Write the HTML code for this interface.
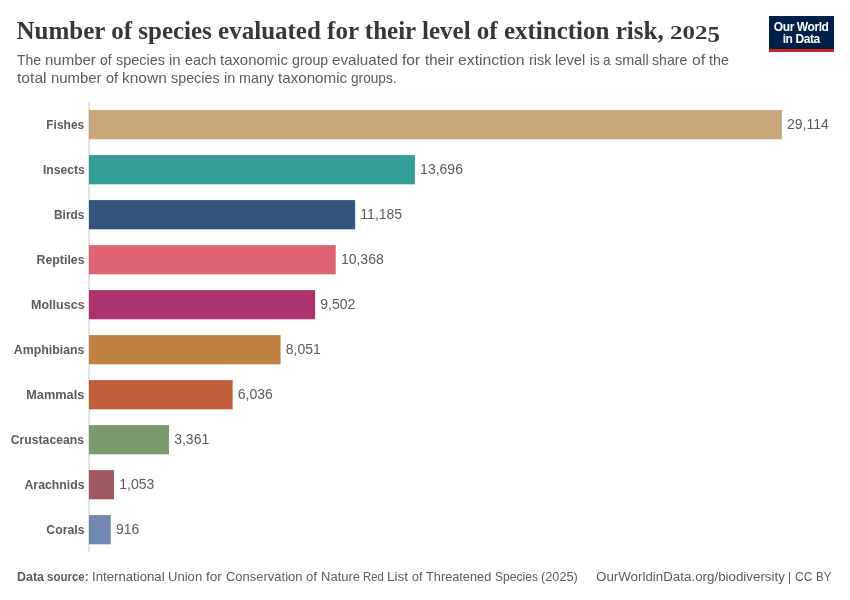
<!DOCTYPE html>
<html><head><meta charset="utf-8">
<style>
html,body{margin:0;padding:0;background:#fff;}
body{width:850px;height:600px;position:relative;overflow:hidden;font-family:"Liberation Sans",sans-serif;}
.title{position:absolute;left:16.5px;top:17px;font-family:"Liberation Serif",serif;font-weight:bold;font-size:25px;color:#373737;white-space:nowrap;transform-origin:0 0;}
.sub{position:absolute;font-size:15px;color:#5b5b5b;white-space:nowrap;line-height:18px;transform-origin:0 0;}
.lab{position:absolute;right:765.5px;margin-top:0px;transform:scaleX(0.945);font-size:13px;font-weight:bold;color:#5b5b5b;white-space:nowrap;line-height:29px;height:29px;transform-origin:100% 50%;}
.val{position:absolute;font-size:14px;color:#5b5b5b;white-space:nowrap;line-height:29px;height:29px;margin-top:0.3px}
.fb{font-weight:bold}
.foot{position:absolute;font-size:13px;color:#5b5b5b;white-space:nowrap;line-height:16px;transform-origin:0 0;}
.logo{position:absolute;left:769px;top:16px;width:65px;height:36px;background:#002147;}
.logo .red{position:absolute;left:0;bottom:0;width:65px;height:3px;background:#ce261e;}
.logo .t{position:absolute;left:-0.3px;width:65px;text-align:center;color:#fff;font-weight:bold;font-size:12px;line-height:12px;letter-spacing:-0.42px;}
svg{position:absolute;left:0;top:0;}
#wrap{position:absolute;left:0;top:0;width:850px;height:600px;will-change:transform;}
</style></head><body><div id="wrap">
<div class="title" id="title">Number of species evaluated for their level of extinction risk, <span style="display:inline-block;transform:scaleY(0.72);transform-origin:0 80.5%">202</span><span style="display:inline-block;transform:translateY(3.2px) scaleY(0.96);transform-origin:0 80.5%">5</span></div>
<div class="sub" style="left:17.20px;top:50.5px;transform:scaleX(0.9328)">The</div>
<div class="sub" style="left:45.20px;top:50.5px;transform:scaleX(0.9994)">number</div>
<div class="sub" style="left:100.20px;top:50.5px;transform:scaleX(0.9408)">of</div>
<div class="sub" style="left:115.90px;top:50.5px;transform:scaleX(0.9613)">species</div>
<div class="sub" style="left:168.80px;top:50.5px;transform:scaleX(0.9909)">in</div>
<div class="sub" style="left:184.50px;top:50.5px;transform:scaleX(0.9590)">each</div>
<div class="sub" style="left:219.70px;top:50.5px;transform:scaleX(0.9925)">taxonomic</div>
<div class="sub" style="left:291.70px;top:50.5px;transform:scaleX(0.9448)">group</div>
<div class="sub" style="left:331.90px;top:50.5px;transform:scaleX(1.0125)">evaluated</div>
<div class="sub" style="left:402.00px;top:50.5px;transform:scaleX(1.0421)">for</div>
<div class="sub" style="left:424.60px;top:50.5px;transform:scaleX(0.9922)">their</div>
<div class="sub" style="left:457.70px;top:50.5px;transform:scaleX(1.0511)">extinction</div>
<div class="sub" style="left:528.70px;top:50.5px;transform:scaleX(0.9636)">risk</div>
<div class="sub" style="left:555.20px;top:50.5px;transform:scaleX(0.9820)">level</div>
<div class="sub" style="left:589.60px;top:50.5px;transform:scaleX(0.9000)">is</div>
<div class="sub" style="left:603.10px;top:50.5px;transform:scaleX(0.9109)">a</div>
<div class="sub" style="left:614.50px;top:50.5px;transform:scaleX(0.9650)">small</div>
<div class="sub" style="left:652.30px;top:50.5px;transform:scaleX(0.9400)">share</div>
<div class="sub" style="left:691.50px;top:50.5px;transform:scaleX(1.0427)">of</div>
<div class="sub" style="left:708.90px;top:50.5px;transform:scaleX(0.9540)">the</div>
<div class="sub" style="left:17.20px;top:68.5px;transform:scaleX(1.0421)">total</div>
<div class="sub" style="left:51.10px;top:68.5px;transform:scaleX(0.9922)">number</div>
<div class="sub" style="left:105.70px;top:68.5px;transform:scaleX(0.9648)">of</div>
<div class="sub" style="left:121.80px;top:68.5px;transform:scaleX(1.0330)">known</div>
<div class="sub" style="left:170.90px;top:68.5px;transform:scaleX(0.9558)">species</div>
<div class="sub" style="left:223.50px;top:68.5px;transform:scaleX(0.9594)">in</div>
<div class="sub" style="left:238.70px;top:68.5px;transform:scaleX(0.9545)">many</div>
<div class="sub" style="left:277.70px;top:68.5px;transform:scaleX(1.0104)">taxonomic</div>
<div class="sub" style="left:351.00px;top:68.5px;transform:scaleX(0.9111)">groups.</div>
<div class="logo"><div class="t" style="top:5px">Our World</div><div class="t" style="top:17px">in Data</div><div class="red"></div></div>
<svg width="850" height="600" viewBox="0 0 850 600">
<rect x="88" y="102" width="2" height="450" fill="#e2e2e2"/>
<rect x="89" y="110.1" width="692.80" height="29.2" fill="#BC8E5A" fill-opacity="0.8"/>
<rect x="89" y="155.1" width="325.91" height="29.2" fill="#00847E" fill-opacity="0.8"/>
<rect x="89" y="200.1" width="266.16" height="29.2" fill="#00295B" fill-opacity="0.8"/>
<rect x="89" y="245.1" width="246.72" height="29.2" fill="#D73C50" fill-opacity="0.8"/>
<rect x="89" y="290.1" width="226.11" height="29.2" fill="#970046" fill-opacity="0.8"/>
<rect x="89" y="335.1" width="191.58" height="29.2" fill="#B16214" fill-opacity="0.8"/>
<rect x="89" y="380.1" width="143.63" height="29.2" fill="#B13507" fill-opacity="0.8"/>
<rect x="89" y="425.1" width="79.98" height="29.2" fill="#578145" fill-opacity="0.8"/>
<rect x="89" y="470.1" width="25.06" height="29.2" fill="#883039" fill-opacity="0.8"/>
<rect x="89" y="515.1" width="21.80" height="29.2" fill="#4C6A9C" fill-opacity="0.8"/>
</svg>
<div class="lab" style="top:110px;transform:translateY(0.2px) scale(0.920,1.045)">Fishes</div>
<div class="lab" style="top:155px;transform:translateY(0.2px) scale(0.934,1.045)">Insects</div>
<div class="lab" style="top:200px;transform:translateY(0.2px) scale(0.907,1.045)">Birds</div>
<div class="lab" style="top:245px;transform:translateY(0.2px) scale(0.950,1.045)">Reptiles</div>
<div class="lab" style="top:290px;transform:translateY(0.2px) scale(0.964,1.045)">Molluscs</div>
<div class="lab" style="top:335px;transform:translateY(0.2px) scale(0.949,1.045)">Amphibians</div>
<div class="lab" style="top:380px;transform:translateY(0.2px) scale(0.979,1.045)">Mammals</div>
<div class="lab" style="top:425px;transform:translateY(0.2px) scale(0.940,1.045)">Crustaceans</div>
<div class="lab" style="top:470px;transform:translateY(0.2px) scale(0.945,1.045)">Arachnids</div>
<div class="lab" style="top:515px;transform:translateY(0.2px) scale(0.942,1.045)">Corals</div>
<div class="val" style="top:110px;left:787.00px">29,114</div>
<div class="val" style="top:155px;left:420.11px">13,696</div>
<div class="val" style="top:200px;left:360.36px">11,185</div>
<div class="val" style="top:245px;left:340.92px">10,368</div>
<div class="val" style="top:290px;left:320.31px">9,502</div>
<div class="val" style="top:335px;left:285.78px">8,051</div>
<div class="val" style="top:380px;left:237.83px">6,036</div>
<div class="val" style="top:425px;left:174.18px">3,361</div>
<div class="val" style="top:470px;left:119.26px">1,053</div>
<div class="val" style="top:515px;left:116.00px">916</div>
<div class="foot fb" style="left:16.60px;top:569px;transform:scaleX(0.9592)">Data</div>
<div class="foot fb" style="left:47.10px;top:569px;transform:scaleX(0.8836)">source:</div>
<div class="foot" style="left:92.00px;top:569px;transform:scaleX(1.0150)">International</div>
<div class="foot" style="left:168.30px;top:569px;transform:scaleX(1.0059)">Union</div>
<div class="foot" style="left:206.10px;top:569px;transform:scaleX(1.0480)">for</div>
<div class="foot" style="left:225.80px;top:569px;transform:scaleX(0.9985)">Conservation</div>
<div class="foot" style="left:305.90px;top:569px;transform:scaleX(1.0091)">of</div>
<div class="foot" style="left:320.50px;top:569px;transform:scaleX(1.0014)">Nature</div>
<div class="foot" style="left:363.20px;top:569px;transform:scaleX(0.8664)">Red</div>
<div class="foot" style="left:387.00px;top:569px;transform:scaleX(1.0401)">List</div>
<div class="foot" style="left:411.80px;top:569px;transform:scaleX(0.9607)">of</div>
<div class="foot" style="left:425.70px;top:569px;transform:scaleX(0.9813)">Threatened</div>
<div class="foot" style="left:494.50px;top:569px;transform:scaleX(0.9283)">Species</div>
<div class="foot" style="left:540.80px;top:569px;transform:scaleX(0.9793)">(2025)</div>
<div class="foot" style="left:595.70px;top:569px;transform:scaleX(1.0265)">OurWorldinData.org/biodiversity</div>
<div class="foot" style="left:788.30px;top:569px;transform:scaleX(0.9143)">|</div>
<div class="foot" style="left:794.70px;top:569px;transform:scaleX(0.9334)">CC</div>
<div class="foot" style="left:815.60px;top:569px;transform:scaleX(0.8822)">BY</div>
</div></body></html>
